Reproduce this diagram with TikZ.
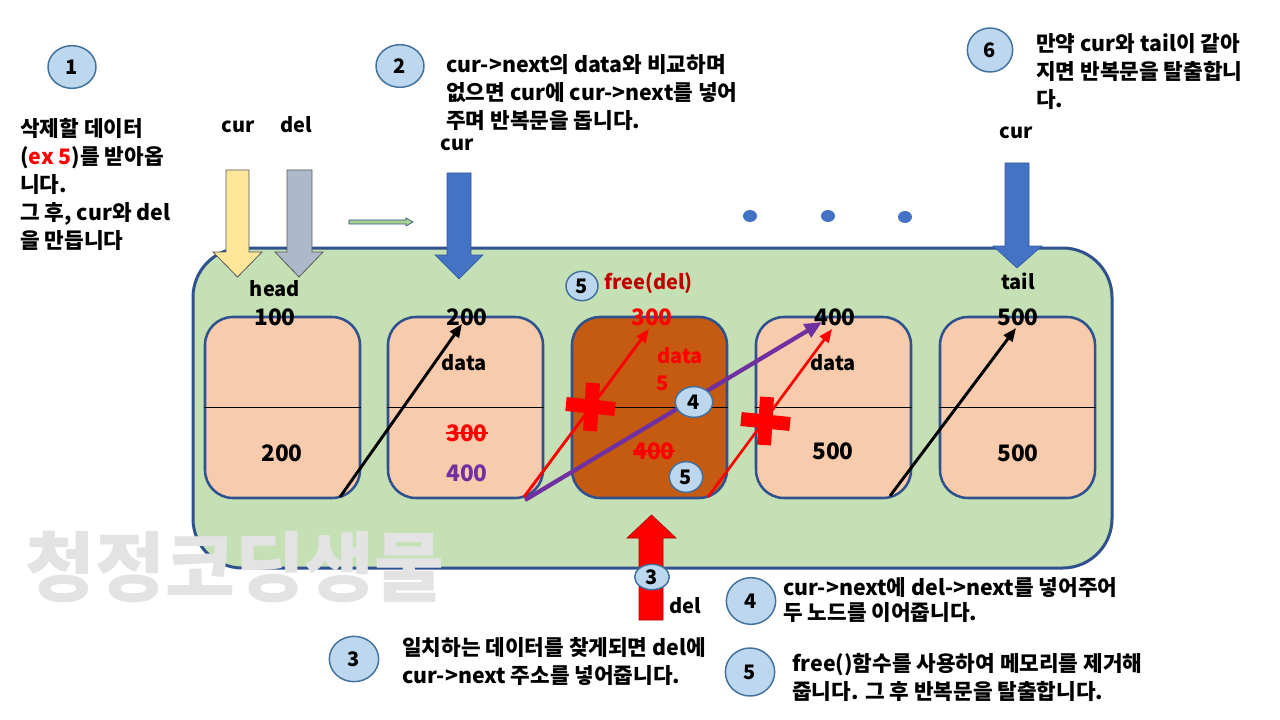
\documentclass[tikz,border=0pt]{standalone}
\usepackage{fontspec}
\newfontfamily\kr{Noto Sans CJK KR}
\usetikzlibrary{shapes.geometric,arrows.meta}
\definecolor{grn}{HTML}{C5E0B4}
\definecolor{bord}{HTML}{2F528F}
\definecolor{peach}{HTML}{F8CBAD}
\definecolor{rust}{HTML}{C55A11}
\definecolor{badgefill}{HTML}{BDD7EE}
\definecolor{badgeline}{HTML}{41719C}
\definecolor{ublue}{HTML}{4472C4}
\definecolor{uyellow}{HTML}{FFE699}
\definecolor{ugray}{HTML}{ADB9CA}
\definecolor{upurple}{HTML}{7030A0}
\definecolor{dred}{HTML}{C00000}
\definecolor{wm}{HTML}{E3E3E3}
\definecolor{lgreen}{HTML}{A9D18E}
\tikzset{
  txt/.style={font=\kr\bfseries\fontsize{16}{21}\selectfont, inner sep=0, align=left, anchor=north west},
  lbl/.style={font=\kr\bfseries\fontsize{15}{18}\selectfont, inner sep=0},
  num/.style={font=\kr\bfseries\fontsize{17}{18}\selectfont, inner sep=0},
  badge/.style={ellipse, draw=badgeline, line width=1.1pt, fill=badgefill, inner sep=0, font=\kr\bfseries\fontsize{15}{18}\selectfont},
  nodebox/.style={draw=bord, line width=1.9pt, fill=peach, rounded corners=21pt, minimum width=116.25pt, minimum height=135.75pt, inner sep=0},
  ptr/.style={line width=2.2pt, -{Triangle[length=10pt,width=8pt]}},
  dot/.style={ellipse, fill=ublue, inner sep=0, minimum width=10.5pt, minimum height=9pt},
  strike/.style={red, line width=1pt},
  crossbar/.style={red, line width=10.5pt}
}
\begin{document}
\begin{tikzpicture}[x=0.75pt,y=-0.75pt]
\useasboundingbox (0,0) rectangle (1280,720);
\fill[white] (0,0) rectangle (1280,720);

% big frame
\node[draw=bord, line width=2.25pt, fill=grn, rounded corners=37pt, minimum width=689.25pt, minimum height=240pt, inner sep=0] (frame) at (652.5,408) {};

% list nodes
\node[nodebox] (b1) at (282.5,407.5) {};
\node[nodebox] (b2) at (465.5,407.5) {};
\node[nodebox, fill=rust] (b3) at (649.5,407.5) {};
\node[nodebox] (b4) at (833.5,407.5) {};
\node[nodebox] (b5) at (1017.5,407.5) {};
\foreach \b in {b1,b2,b3,b4,b5} \draw[line width=0.6pt] (\b.west) -- (\b.east);

% addresses
\node[num] (a1) at (275,317) {100};
\node[num] (a2) at (467,317) {200};
\node[num, text=red] (a3) at (652,317) {300};
\node[num] (a4) at (835,317) {400};
\node[num] (a5) at (1018,317) {500};
\node[lbl] (head) at (275,289) {head};
\node[lbl] (tail) at (1018,281) {tail};

% contents
\node[lbl] (d2) at (464,363) {data};
\node[lbl] (d4) at (833,363) {data};
\node[lbl, text=red] (d3) at (680,356) {data};
\node[lbl, text=red] (d3v) at (663,383) {5};
\node[num] (n1) at (282,453) {200};
\node[num, text=red] (n2old) at (467,433) {300};
\draw[strike] (n2old.west) -- (n2old.east);
\node[num, text=upurple] (n2) at (467,473) {400};
\node[num, text=red] (n3) at (654,451) {400};
\draw[strike] (n3.west) -- (n3.east);
\node[num] (n4) at (833,451) {500};
\node[num] (n5) at (1018,453) {500};

% pointer endpoints
\coordinate (s1) at (340,497);  \coordinate (t1) at (462,324);
\coordinate (s2) at (524,497);  \coordinate (t2) at (649,329);
\coordinate (s3) at (525,500);  \coordinate (t3) at (822,322);
\coordinate (s4) at (708,497);  \coordinate (t4) at (832,329);
\coordinate (s5) at (890,496);  \coordinate (t5) at (1016,328);
\draw[ptr] (s1) -- (t1);
\draw[ptr, red] (s2) -- (t2);
\draw[ptr, red, line width=2pt] (s4) -- (t4);
\draw[ptr] (s5) -- (t5);
\draw[line width=3.2pt, upurple, -{Triangle[length=13pt,width=11pt]}] (s3) -- (t3);

% crosses
\draw[crossbar] (593,383) -- (590,431);
\draw[crossbar] (566,404) -- (615,409);
\draw[crossbar] (767,397) -- (764,445);
\draw[crossbar] (741,419) -- (790,424);

% block arrows
\filldraw[fill=uyellow, draw=black!65, line width=0.6pt] (226,170) -- (249,170) -- (249,252) -- (262,252) -- (237.5,277) -- (213,252) -- (226,252) -- cycle;
\filldraw[fill=ugray, draw=black!65, line width=0.6pt] (287,170) -- (312,170) -- (312,252) -- (323,252) -- (299,277) -- (275,252) -- (287,252) -- cycle;
\filldraw[fill=ublue, draw=ublue!80!black, line width=0.5pt] (447,173) -- (471,173) -- (471,255) -- (483,255) -- (459,279) -- (435,255) -- (447,255) -- cycle;
\filldraw[fill=ublue, draw=ublue!80!black, line width=0.5pt] (1005,163) -- (1029,163) -- (1029,246) -- (1042,246) -- (1017,268) -- (993,246) -- (1005,246) -- cycle;
\filldraw[fill=red, draw=red!70!black, line width=0.5pt] (639,620) -- (663,620) -- (663,538) -- (676,538) -- (651.5,515) -- (627,538) -- (639,538) -- cycle;
\filldraw[fill=lgreen, draw=bord, line width=0.5pt] (349,220) -- (406,220) -- (406,218) -- (413,222) -- (406,226) -- (406,224) -- (349,224) -- cycle;

% dots
\node[dot] (dot1) at (750,216) {};
\node[dot] (dot2) at (828,216) {};
\node[dot] (dot3) at (905,217) {};

% pointer labels
\node[lbl] (cur1) at (238,127) {cur};
\node[lbl] (del1) at (296,125) {del};
\node[lbl] (cur2) at (457,145) {cur};
\node[lbl] (cur3) at (1016,133) {cur};
\node[lbl] (del2) at (685,606) {del};
\node[lbl, text=dred, anchor=west] (free) at (604,283) {free(del)};

% badges
\node[badge, minimum width=36pt, minimum height=32pt] (k1) at (72,67) {1};
\node[badge, minimum width=36pt, minimum height=32pt] (k2) at (400,66) {2};
\node[badge, minimum width=34pt, minimum height=33pt] (k6) at (990,50) {6};
\node[badge, minimum width=37pt, minimum height=34pt] (k3) at (354,659) {3};
\node[badge, minimum width=37pt, minimum height=35pt] (k4) at (751,601) {4};
\node[badge, minimum width=37pt, minimum height=36pt] (k5) at (750,672) {5};
\node[badge, minimum width=24pt, minimum height=22pt] (s5b) at (582,286) {5};
\node[badge, minimum width=28pt, minimum height=23pt] (s4b) at (694,402) {4};
\node[badge, minimum width=25pt, minimum height=23pt] (s5c) at (686,477) {5};
\node[badge, minimum width=26pt, minimum height=19pt] (s3b) at (652,577) {3};

% explanations
\node[txt] (e1) at (20,118) {삭제할 데이터\\(\textcolor{red}{ex 5})를 받아옵\\니다.\\그 후, cur와 del\\을 만듭니다};
\node[txt] (e2) at (446,54) {cur->next의 data와 비교하며\\없으면 cur에 cur->next를 넣어\\주며 반복문을 돕니다.};
\node[txt] (e6) at (1036,33) {만약 cur와 tail이 같아\\지면 반복문을 탈출합니\\다.};
\node[txt] (e3) at (402,637) {일치하는 데이터를 찾게되면 del에\\cur->next 주소를 넣어줍니다.};
\node[txt, font=\kr\bfseries\fontsize{16}{19}\selectfont] (e4) at (783,577) {cur->next에 del->next를 넣어주어\\두 노드를 이어줍니다.};
\node[txt] (e5) at (792,653) {free()함수를 사용하여 메모리를 제거해\\줍니다. 그 후 반복문을 탈출합니다.};

% watermark
\node[font=\kr\bfseries\fontsize{57}{62}\selectfont, text=wm, inner sep=0] (wmark) at (235,567) {청정코딩생물};
\end{tikzpicture}
\end{document}
